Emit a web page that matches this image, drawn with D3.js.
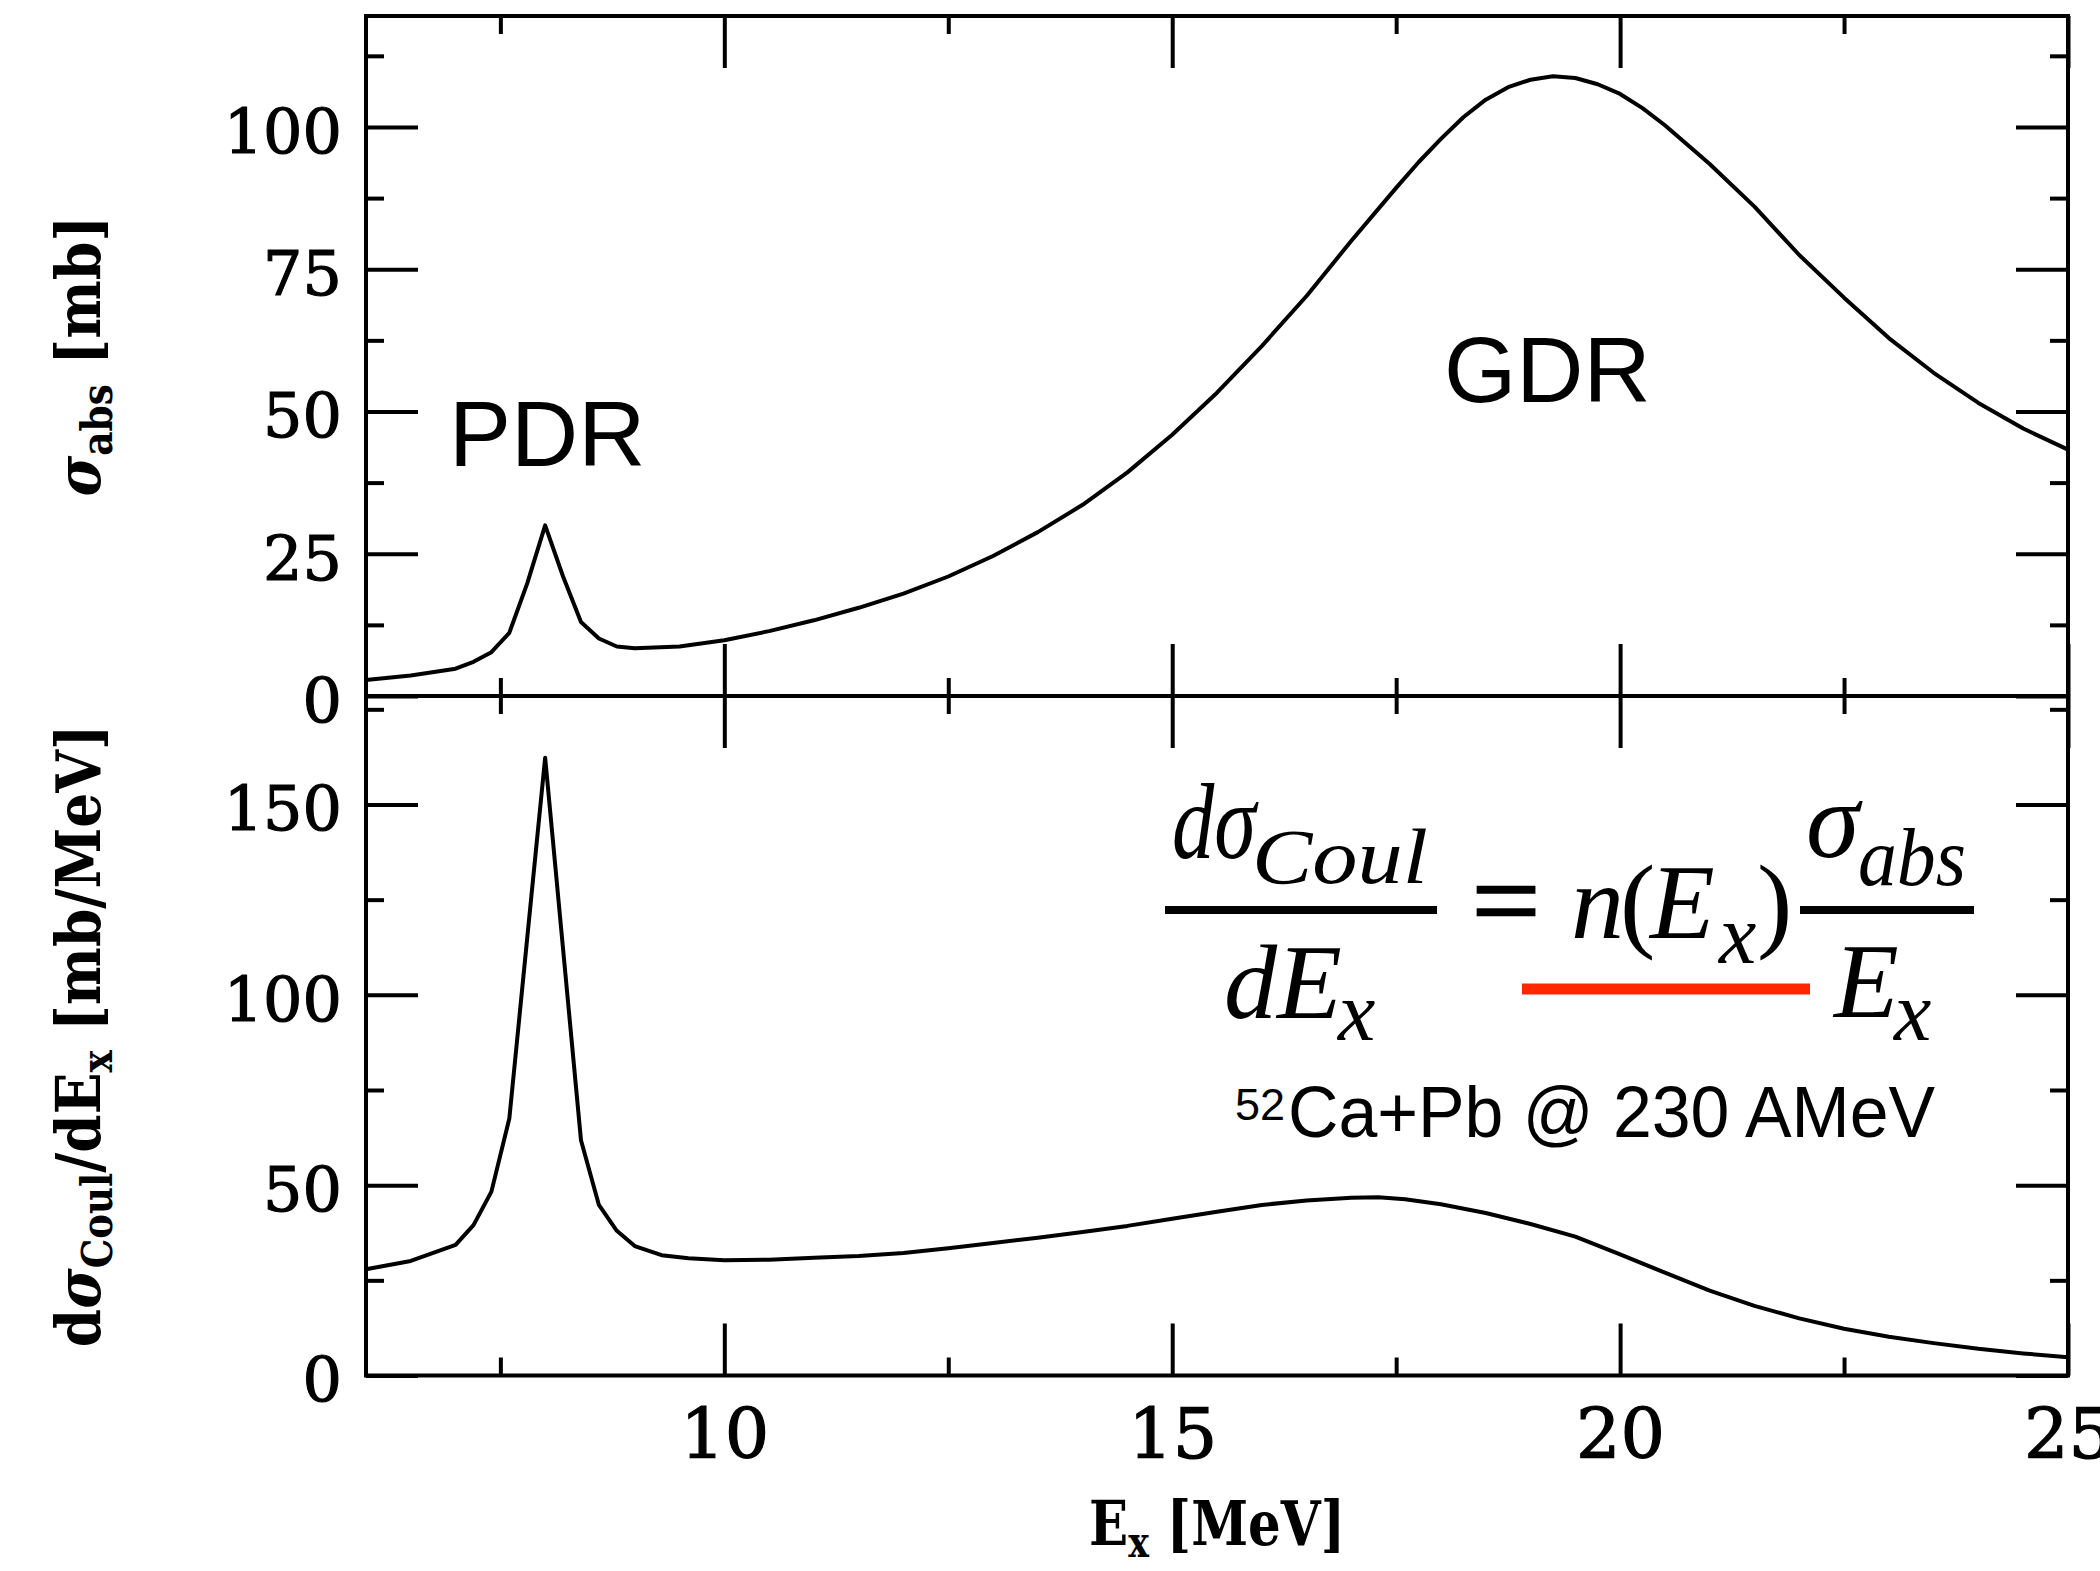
<!DOCTYPE html>
<html>
<head>
<meta charset="utf-8">
<script src="https://cdn.jsdelivr.net/npm/d3@7"></script>
<style>
  body { margin: 0; background: #fff; }
  svg { display: block; }
</style>
</head>
<body>
<div id="chart"></div>
<script>
// top panel: photo-absorption cross section [mb] vs Ex [MeV]
var energyAbs = [6.0, 6.5, 7.0, 7.2, 7.4, 7.6, 7.8, 8.0, 8.2, 8.4, 8.6, 8.8, 9.0, 9.5, 10.0,
  10.5, 11.0, 11.5, 12.0, 12.5, 13.0, 13.5, 14.0, 14.5, 15.0, 15.5, 16.0, 16.5, 17.0, 17.5,
  17.75, 18.0, 18.25, 18.5, 18.75, 19.0, 19.25, 19.5, 19.75, 20.0, 20.25, 20.5, 21.0, 21.5,
  22.0, 22.5, 23.0, 23.5, 24.0, 24.5, 25.0];
var sigmaAbs = [2.8, 3.6, 4.8, 6.0, 7.7, 11.1, 19.8, 30.0, 21.0, 13.0, 10.1, 8.7, 8.4, 8.7, 9.8,
  11.4, 13.3, 15.5, 18.0, 21.0, 24.6, 28.8, 33.6, 39.3, 45.9, 53.3, 61.5, 70.3, 80.0, 89.3,
  93.8, 97.9, 101.7, 104.8, 107.0, 108.3, 108.9, 108.6, 107.5, 105.8, 103.3, 100.3, 93.5, 86.0,
  77.5, 70.0, 62.9, 56.8, 51.5, 47.0, 43.3];

// bottom panel: Coulomb excitation cross section [mb/MeV] vs Ex [MeV]
var energyCoul = [6.0, 6.5, 7.0, 7.2, 7.4, 7.6, 7.8, 8.0, 8.2, 8.4, 8.6, 8.8, 9.0, 9.3, 9.6,
  10.0, 10.5, 11.0, 11.5, 12.0, 12.5, 13.0, 13.5, 14.0, 14.5, 15.0, 15.5, 16.0, 16.5, 17.0,
  17.3, 17.6, 18.0, 18.5, 19.0, 19.5, 20.0, 20.5, 21.0, 21.5, 22.0, 22.5, 23.0, 23.5, 24.0, 24.5, 25.0];
var sigmaCoul = [27.9, 30.1, 34.3, 39.5, 48.3, 67.5, 115.0, 162.3, 112.0, 61.8, 44.8, 38.0, 34.0, 31.6, 30.8,
  30.3, 30.4, 30.9, 31.4, 32.2, 33.4, 34.8, 36.2, 37.7, 39.3, 41.2, 43.0, 44.8, 46.0, 46.7,
  46.8, 46.3, 45.0, 42.7, 39.8, 36.5, 31.8, 27.0, 22.3, 18.3, 15.0, 12.3, 10.2, 8.5, 7.0, 5.8, 4.8];

var xMajor = [10, 15, 20, 25];
var xMinor = [7.5, 12.5, 17.5, 22.5];
var topMajor = [0, 25, 50, 75, 100];
var topMinor = [12.5, 37.5, 62.5, 87.5, 112.5];
var bottomMajor = [0, 50, 100, 150];
var bottomMinor = [25, 75, 125, 175];

var width = 2100, height = 1571;
var plotLeft = 366, plotRight = 2068, plotTop = 16, plotMid = 696, plotBottom = 1375.5;
var majorLen = 52, minorLen = 18, lw = 4;

var svg = d3.select("#chart").append("svg")
  .attr("width", width)
  .attr("height", height)
  .style("background", "#fff");

var x = d3.scaleLinear().domain([6, 25]).range([plotLeft, plotRight]);
var yTop = d3.scaleLinear().domain([0, 119.5]).range([plotMid, plotTop]);
var yBot = d3.scaleLinear().domain([0, 178.5]).range([plotBottom, plotMid]);

// ticks on the four sides of one panel, all pointing inward
function drawFrameTicks(yScale, yMajor, yMinor, y0, y1, showX) {
  var g = svg.append("g");

  function styleAxis(sel) {
    sel.select(".domain").remove();
    sel.selectAll(".tick line").attr("stroke", "#000").attr("stroke-width", lw);
  }

  var leftMaj = g.append("g").attr("transform", `translate(${plotLeft},0)`)
    .call(d3.axisLeft(yScale).tickValues(yMajor).tickSize(-majorLen).tickPadding(24)
      .tickFormat(d3.format("d")));
  styleAxis(leftMaj);
  leftMaj.selectAll(".tick text")
    .attr("font-family", "'DejaVu Serif', serif")
    .attr("font-size", 62)
    .attr("fill", "#000")
    .attr("stroke", "#000").attr("stroke-width", 1.2)
    .attr("dy", "0.41em");

  g.append("g").attr("transform", `translate(${plotLeft},0)`)
    .call(d3.axisLeft(yScale).tickValues(yMinor).tickSize(-minorLen).tickFormat(""))
    .call(styleAxis);
  g.append("g").attr("transform", `translate(${plotRight},0)`)
    .call(d3.axisRight(yScale).tickValues(yMajor).tickSize(-majorLen).tickFormat(""))
    .call(styleAxis);
  g.append("g").attr("transform", `translate(${plotRight},0)`)
    .call(d3.axisRight(yScale).tickValues(yMinor).tickSize(-minorLen).tickFormat(""))
    .call(styleAxis);

  g.append("g").attr("transform", `translate(0,${y0})`)
    .call(d3.axisTop(x).tickValues(xMajor).tickSize(-majorLen).tickFormat(""))
    .call(styleAxis);
  g.append("g").attr("transform", `translate(0,${y0})`)
    .call(d3.axisTop(x).tickValues(xMinor).tickSize(-minorLen).tickFormat(""))
    .call(styleAxis);

  var botMaj = g.append("g").attr("transform", `translate(0,${y1})`)
    .call(d3.axisBottom(x).tickValues(xMajor).tickSize(-majorLen).tickPadding(33)
      .tickFormat(showX ? d3.format("d") : ""));
  styleAxis(botMaj);
  botMaj.selectAll(".tick text")
    .attr("font-family", "'DejaVu Serif', serif")
    .attr("font-size", 70)
    .attr("fill", "#000")
    .attr("stroke", "#000").attr("stroke-width", 1.2);
  g.append("g").attr("transform", `translate(0,${y1})`)
    .call(d3.axisBottom(x).tickValues(xMinor).tickSize(-minorLen).tickFormat(""))
    .call(styleAxis);

  g.append("rect")
    .attr("x", plotLeft).attr("y", y0)
    .attr("width", plotRight - plotLeft).attr("height", y1 - y0)
    .attr("fill", "none").attr("stroke", "#000").attr("stroke-width", lw);
}

drawFrameTicks(yTop, topMajor, topMinor, plotTop, plotMid, false);
drawFrameTicks(yBot, bottomMajor, bottomMinor, plotMid, plotBottom, true);

// curves
var lineTop = d3.line().x((d, i) => x(energyAbs[i])).y((d) => yTop(d));
var lineBot = d3.line().x((d, i) => x(energyCoul[i])).y((d) => yBot(d));

svg.append("path").datum(sigmaAbs)
  .attr("d", lineTop).attr("fill", "none")
  .attr("stroke", "#000").attr("stroke-width", 4).attr("stroke-linejoin", "round");
svg.append("path").datum(sigmaCoul)
  .attr("d", lineBot).attr("fill", "none")
  .attr("stroke", "#000").attr("stroke-width", 4).attr("stroke-linejoin", "round");

// axis titles
var titleFont = "'DejaVu Serif', serif";

var t1 = svg.append("text")
  .attr("transform", `translate(100,${(plotTop + plotMid) / 2}) rotate(-90)`)
  .attr("text-anchor", "middle")
  .attr("font-family", titleFont).attr("font-weight", "bold").attr("font-size", 62)
  .attr("textLength", 281).attr("lengthAdjust", "spacingAndGlyphs");
t1.append("tspan").attr("font-style", "italic").text("σ");
t1.append("tspan").attr("font-size", 42).attr("dy", 12).text("abs");
t1.append("tspan").attr("dy", -12).text(" [mb]");

var t2 = svg.append("text")
  .attr("transform", `translate(100,${(plotMid + plotBottom) / 2}) rotate(-90)`)
  .attr("text-anchor", "middle")
  .attr("font-family", titleFont).attr("font-weight", "bold").attr("font-size", 62)
  .attr("textLength", 623).attr("lengthAdjust", "spacingAndGlyphs");
t2.append("tspan").text("d");
t2.append("tspan").attr("font-style", "italic").text("σ");
t2.append("tspan").attr("font-size", 42).attr("dy", 12).text("Coul");
t2.append("tspan").attr("dy", -12).text("/dE");
t2.append("tspan").attr("font-size", 42).attr("dy", 12).text("x");
t2.append("tspan").attr("dy", -12).text(" [mb/MeV]");

var t3 = svg.append("text")
  .attr("x", (plotLeft + plotRight) / 2).attr("y", 1545)
  .attr("text-anchor", "middle")
  .attr("font-family", titleFont).attr("font-weight", "bold").attr("font-size", 62)
  .attr("textLength", 256).attr("lengthAdjust", "spacingAndGlyphs");
t3.append("tspan").text("E");
t3.append("tspan").attr("font-size", 42).attr("dy", 12).text("x");
t3.append("tspan").attr("dy", -12).text(" [MeV]");

// resonance labels
var sans = "'Liberation Sans', Arial, sans-serif";
svg.append("text").attr("x", 449).attr("y", 466)
  .attr("font-family", sans).attr("font-size", 93).text("PDR");
svg.append("text").attr("x", 1444).attr("y", 402)
  .attr("font-family", sans).attr("font-size", 93).text("GDR");

// formula
var mathFont = "'Liberation Serif', 'Times New Roman', serif";
function mathText(str, xx, yy, size, opts) {
  opts = opts || {};
  var t = svg.append("text")
    .attr("x", xx).attr("y", yy)
    .attr("font-family", mathFont)
    .attr("font-style", opts.upright ? "normal" : "italic")
    .attr("font-size", size)
    .attr("fill", "#000")
    .text(str);
  if (opts.len) t.attr("textLength", opts.len).attr("lengthAdjust", "spacingAndGlyphs");
  if (opts.bold) t.attr("stroke", "#000").attr("stroke-width", opts.bold);
  return t;
}

mathText("dσ", 1172, 858, 108, { len: 84 });
mathText("Coul", 1252, 883, 78, { len: 176 });
svg.append("line").attr("x1", 1165).attr("x2", 1437).attr("y1", 910).attr("y2", 910)
  .attr("stroke", "#000").attr("stroke-width", 8);
mathText("dE", 1224, 1018, 106, { len: 118 });
mathText("x", 1338, 1040, 84);

mathText("=", 1472, 938, 112, { upright: true, len: 68, bold: 2.5 });

mathText("n", 1571, 938, 106);
mathText("(", 1620, 938, 106, { upright: true });
mathText("E", 1650, 938, 106);
mathText("x", 1719, 963, 84);
mathText(")", 1757, 938, 106, { upright: true });

svg.append("line").attr("x1", 1800).attr("x2", 1974).attr("y1", 910).attr("y2", 910)
  .attr("stroke", "#000").attr("stroke-width", 8);
mathText("σ", 1806, 857, 108);
mathText("abs", 1858, 885, 82, { len: 108 });
mathText("E", 1834, 1017, 106);
mathText("x", 1894, 1040, 84);

svg.append("line").attr("x1", 1522).attr("x2", 1810).attr("y1", 989).attr("y2", 989)
  .attr("stroke", "#ff2600").attr("stroke-width", 11);

// reaction label
svg.append("text").attr("x", 1235).attr("y", 1120)
  .attr("font-family", sans).attr("font-size", 45).text("52");
svg.append("text").attr("x", 1288).attr("y", 1137)
  .attr("font-family", sans).attr("font-size", 72)
  .attr("textLength", 647).attr("lengthAdjust", "spacingAndGlyphs")
  .text("Ca+Pb @ 230 AMeV");
</script>
</body>
</html>
